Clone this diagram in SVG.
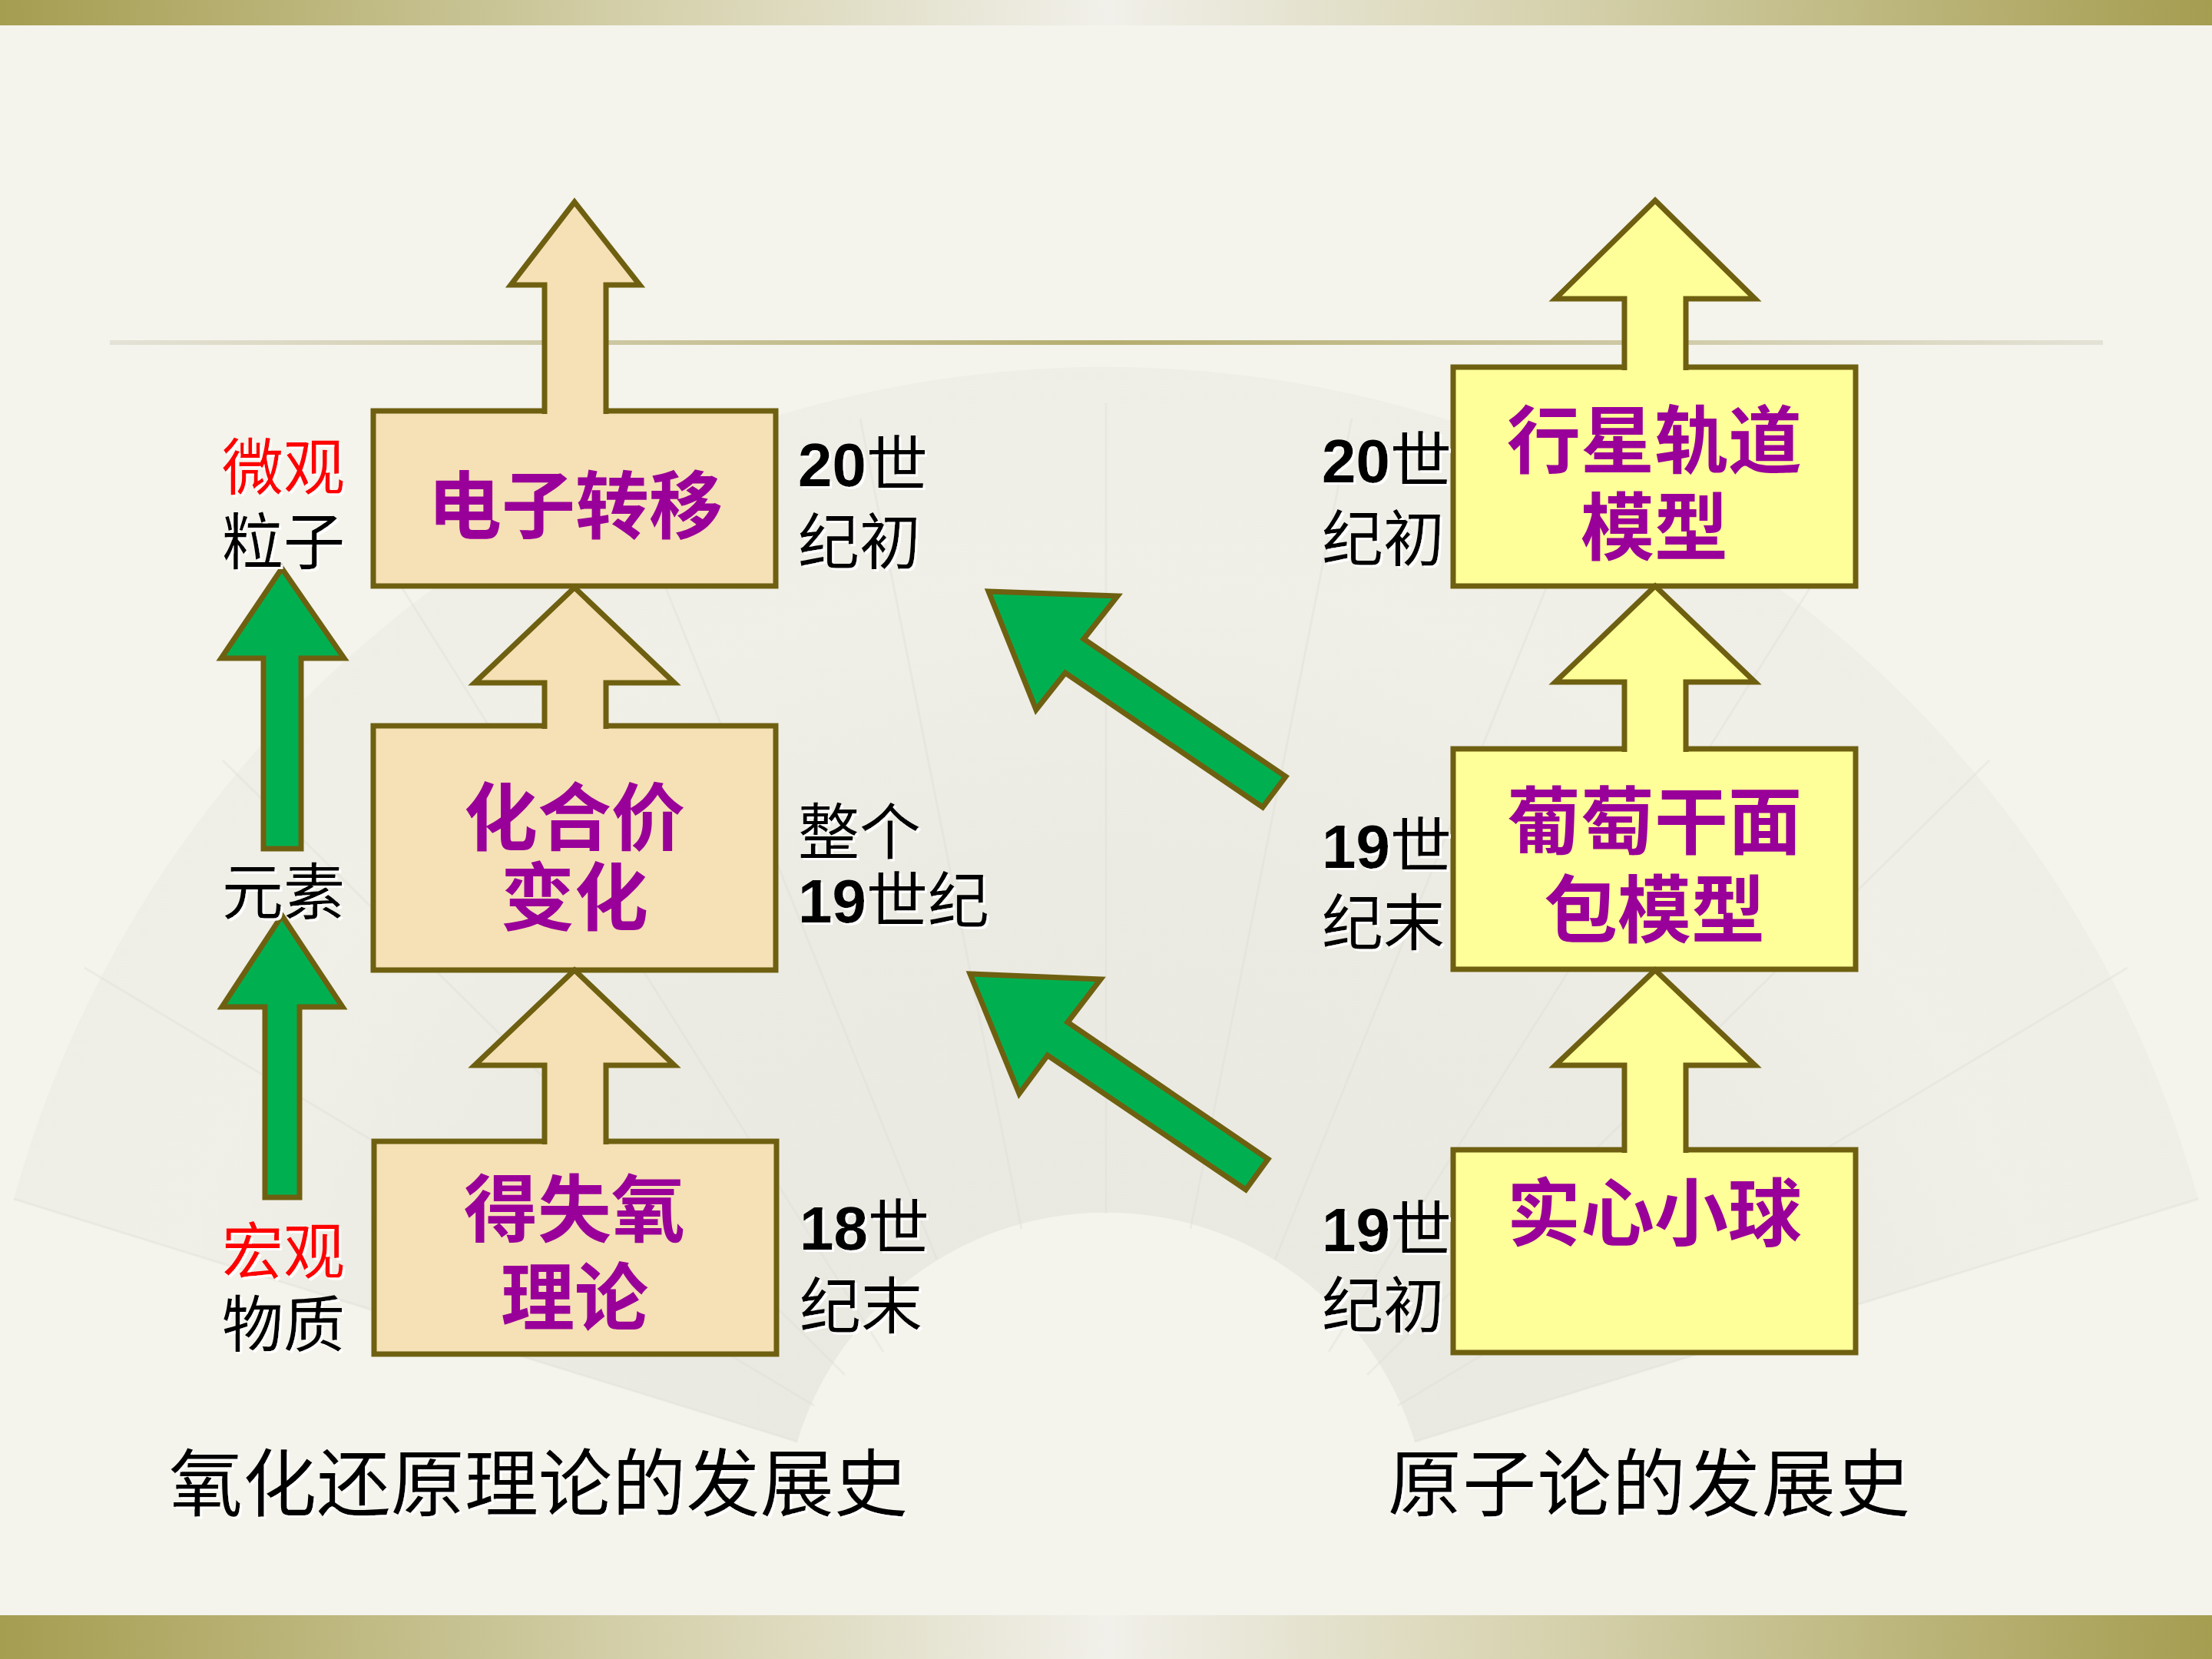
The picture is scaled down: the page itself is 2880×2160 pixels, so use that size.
<svg xmlns="http://www.w3.org/2000/svg" width="2880" height="2160" viewBox="0 0 2880 2160">
<defs>
<linearGradient id="bar" x1="0" y1="0" x2="1" y2="0">
<stop offset="0" stop-color="#A59D50"/>
<stop offset="0.3" stop-color="#D6D2AE"/>
<stop offset="0.5" stop-color="#F1F0EA"/>
<stop offset="0.7" stop-color="#D6D2AE"/>
<stop offset="1" stop-color="#A59D50"/>
</linearGradient>
<linearGradient id="rule" x1="0" y1="0" x2="1" y2="0">
<stop offset="0" stop-color="#E4E2D6"/>
<stop offset="0.5" stop-color="#B5AD6E"/>
<stop offset="1" stop-color="#E4E2D6"/>
</linearGradient>
<radialGradient id="fanfill" cx="1440" cy="2000" r="1475" gradientUnits="userSpaceOnUse">
<stop offset="0.28" stop-color="#E7E6DE"/>
<stop offset="0.6" stop-color="#E9E8E0"/>
<stop offset="0.85" stop-color="#EEEDE6"/>
<stop offset="1" stop-color="#EDECE5"/>
</radialGradient>
<filter id="ws" x="-10%" y="-10%" width="130%" height="130%">
<feDropShadow dx="3" dy="3" stdDeviation="0.6" flood-color="#FFFFFF" flood-opacity="1"/>
</filter>
</defs>
<style>
.bg{fill:#F4F3EC}
.boxL{fill:#F6E0B5;stroke:#6E6010;stroke-width:7}
.boxR{fill:#FFFF99;stroke:#6E6010;stroke-width:7}
.arL{fill:#F6E0B5;stroke:#6E6010;stroke-width:7;stroke-linejoin:miter}
.arR{fill:#FFFF99;stroke:#6E6010;stroke-width:7;stroke-linejoin:miter}
.gr{fill:#00B050;stroke:#6E6010;stroke-width:7;stroke-linejoin:miter}
.pt{font-family:"Noto Sans CJK SC","Noto Sans",sans-serif;font-weight:bold;font-size:96px;fill:#990099;text-anchor:middle}
.lb{font-family:"Noto Sans CJK SC","Noto Sans",sans-serif;font-size:80px;fill:#000000;filter:url(#ws)}
.red{fill:#FF0000}
.num{font-family:"Liberation Sans",Arial,sans-serif;font-weight:bold}
.tt{font-family:"Noto Sans CJK SC","Noto Sans",sans-serif;font-size:96px;fill:#000000;filter:url(#ws)}
.spoke{stroke:#DFDED6;stroke-width:3;fill:none}
</style>

<!-- background -->
<rect class="bg" x="0" y="0" width="2880" height="2160"/>
<path d="M18,1561 A1475,1475 0 0 1 2862,1561 L1842,1877 A420,420 0 0 0 1038,1877 Z" fill="url(#fanfill)" opacity="0.75"/>
<g class="spoke" opacity="0.4">
<line x1="1038" y1="1877" x2="18" y2="1561"/>
<line x1="1060" y1="1830" x2="110" y2="1260"/>
<line x1="1100" y1="1790" x2="290" y2="990"/>
<line x1="1150" y1="1760" x2="520" y2="760"/>
<line x1="1220" y1="1640" x2="800" y2="600"/>
<line x1="1330" y1="1600" x2="1120" y2="545"/>
<line x1="1440" y1="1580" x2="1440" y2="525"/>
<line x1="1550" y1="1600" x2="1760" y2="545"/>
<line x1="1660" y1="1640" x2="2080" y2="600"/>
<line x1="1730" y1="1760" x2="2360" y2="760"/>
<line x1="1780" y1="1790" x2="2590" y2="990"/>
<line x1="1820" y1="1830" x2="2770" y2="1260"/>
<line x1="1842" y1="1877" x2="2862" y2="1561"/>
</g>
<rect x="0" y="0" width="2880" height="33" fill="url(#bar)"/>
<rect x="0" y="2103" width="2880" height="57" fill="url(#bar)"/>
<rect x="143" y="443" width="2595" height="6" fill="url(#rule)"/>

<!-- left column nodes -->
<g id="node-dianzi">
<rect class="boxL" x="486" y="535" width="524" height="228"/>
<text class="pt" x="749" y="693">电子转移</text>
</g>
<g id="node-huahejia">
<rect class="boxL" x="486" y="945" width="524" height="318"/>
<text class="pt" x="748" y="1099">化合价</text>
<text class="pt" x="748" y="1203">变化</text>
</g>
<g id="node-deshiyang">
<rect class="boxL" x="487" y="1486" width="524" height="277"/>
<text class="pt" x="748" y="1609">得失氧</text>
<text class="pt" x="748" y="1724">理论</text>
</g>

<!-- right column nodes -->
<g id="node-xingxing">
<rect class="boxR" x="1892" y="478" width="524" height="285"/>
<text class="pt" x="2154" y="608">行星轨道</text>
<text class="pt" x="2154" y="721">模型</text>
</g>
<g id="node-putao">
<rect class="boxR" x="1892" y="975" width="524" height="287"/>
<text class="pt" x="2154" y="1104">葡萄干面</text>
<text class="pt" x="2154" y="1219">包模型</text>
</g>
<g id="node-shixin">
<rect class="boxR" x="1892" y="1497" width="524" height="264"/>
<text class="pt" x="2154" y="1614">实心小球</text>
</g>

<!-- connectors -->
<g id="connectors">
<path class="arL" d="M709,539 L709,371 L665,371 L748,263 L833,371 L789,371 L789,539"/>
<path class="arL" d="M709,949 L709,889 L618,889 L748,765 L878,889 L789,889 L789,949"/>
<path class="arL" d="M709,1490 L709,1387 L618,1387 L748,1263 L878,1387 L789,1387 L789,1490"/>
<path class="arR" d="M2115,482 L2115,389 L2025,389 L2155,261 L2285,389 L2195,389 L2195,482"/>
<path class="arR" d="M2115,979 L2115,888 L2025,888 L2155,763 L2285,888 L2195,888 L2195,979"/>
<path class="arR" d="M2115,1501 L2115,1387 L2025,1387 L2155,1263 L2285,1387 L2195,1387 L2195,1501"/>
<polygon class="gr" points="367,740 448,857 392,857 392,1105 343,1105 343,857 288,857"/>
<polygon class="gr" points="367,1192 446,1311 390,1311 390,1559 345,1559 345,1311 289,1311"/>
<polygon class="gr" points="1287,770 1455,776 1411,832 1674,1011 1644,1051 1387,876 1349,924"/>
<polygon class="gr" points="1263,1268 1433,1275 1390,1331 1651,1509 1622,1549 1364,1374 1327,1424"/>
</g>

<!-- side labels -->
<g id="scale-labels">
<text class="lb red" x="369" y="637" text-anchor="middle">微观</text>
<text class="lb" x="369" y="734" text-anchor="middle">粒子</text>
<text class="lb" x="369" y="1190" text-anchor="middle">元素</text>
<text class="lb red" x="369" y="1658" text-anchor="middle">宏观</text>
<text class="lb" x="369" y="1753" text-anchor="middle">物质</text>
</g>
<g id="dates-left">
<text class="lb" x="1039" y="633"><tspan class="num">20</tspan>世</text>
<text class="lb" x="1039" y="734">纪初</text>
<text class="lb" x="1039" y="1112">整个</text>
<text class="lb" x="1039" y="1201"><tspan class="num">19</tspan>世纪</text>
<text class="lb" x="1041" y="1627"><tspan class="num">18</tspan>世</text>
<text class="lb" x="1041" y="1729">纪末</text>
</g>
<g id="dates-right">
<text class="lb" x="1721" y="628"><tspan class="num">20</tspan>世</text>
<text class="lb" x="1721" y="730">纪初</text>
<text class="lb" x="1721" y="1130"><tspan class="num">19</tspan>世</text>
<text class="lb" x="1721" y="1230">纪末</text>
<text class="lb" x="1721" y="1629"><tspan class="num">19</tspan>世</text>
<text class="lb" x="1721" y="1728">纪初</text>
</g>

<!-- titles -->
<g id="titles">
<text class="tt" x="220" y="1966" textLength="962" lengthAdjust="spacing">氧化还原理论的发展史</text>
<text class="tt" x="1807" y="1966" textLength="680" lengthAdjust="spacing">原子论的发展史</text>
</g>
</svg>
